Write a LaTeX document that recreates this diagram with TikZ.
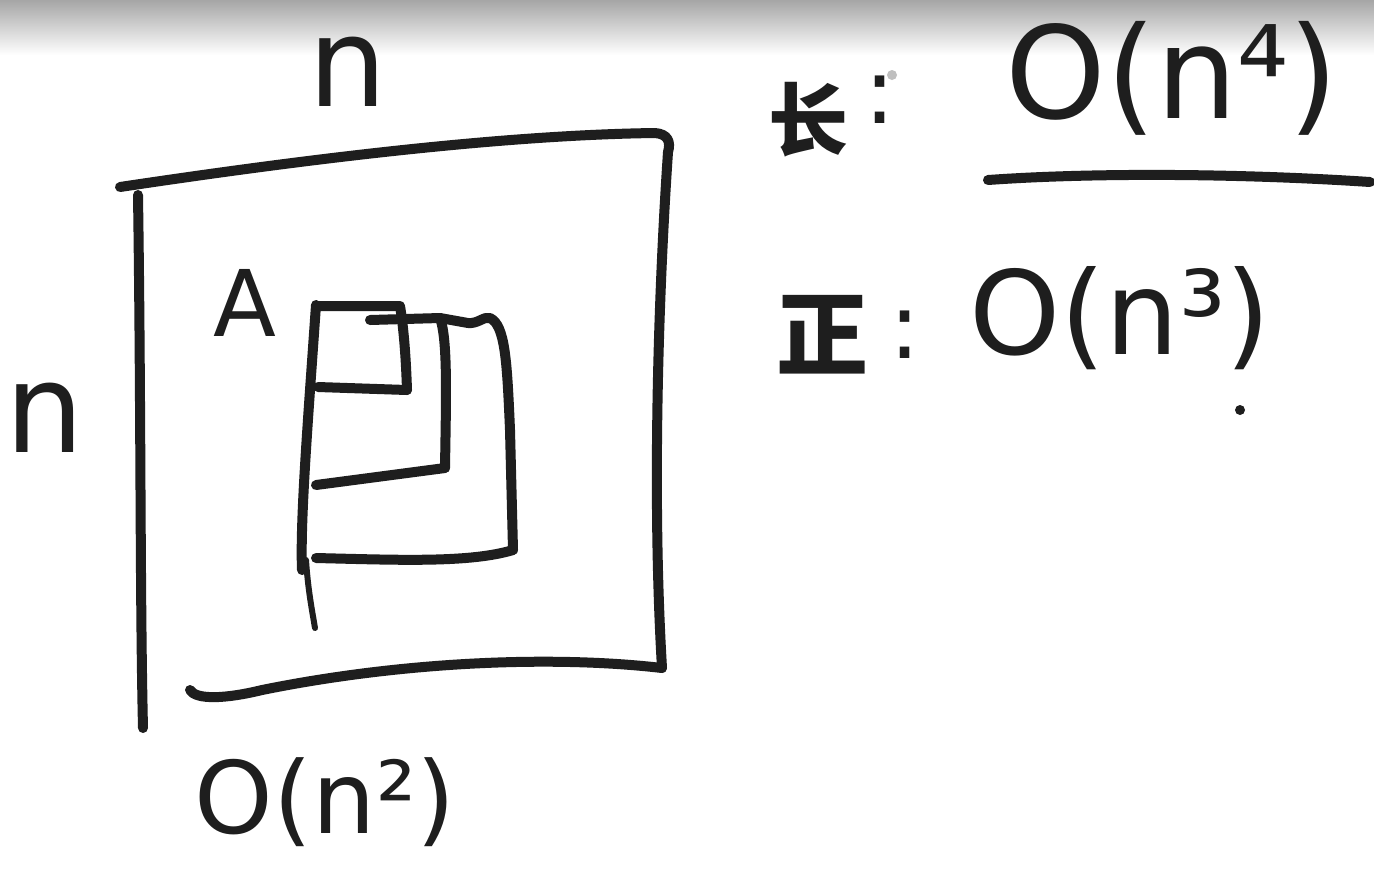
\documentclass[tikz,border=0pt]{standalone}
\usepackage{fontspec}
\setmainfont{DejaVu Sans}
\newfontfamily\cjk{Noto Sans CJK SC}
\definecolor{inkc}{HTML}{1E1E1E}
\begin{document}
\begin{tikzpicture}[x=0.5pt,y=-0.5pt,
  ink/.style={line width=5pt, line cap=round, line join=round, draw=inkc},
  hand/.style={text=inkc, inner sep=0pt}]
\useasboundingbox (0,0) rectangle (1374,869);
\fill[white] (0,0) rectangle (1374,869);
\shade[top color=black!35, bottom color=white] (0,0) rectangle (1374,55);
% outer square
\draw[ink] (120,187) .. controls (300,160) and (500,135) .. (655,133) .. controls (668,134) and (671,142) .. (668,152) .. controls (658,300) and (652,500) .. (662,668);
\draw[ink] (138,195) .. controls (141,400) and (140,600) .. (143,728);
\draw[ink] (190,690) .. controls (196,700) and (225,699) .. (262,690) .. controls (400,662) and (550,655) .. (662,668);
% inner nested squares
\draw[ink] (316,305) .. controls (308,420) and (300,520) .. (302,570);
\draw[ink, line width=3pt] (306,560) .. controls (308,590) and (312,610) .. (315,628);
\draw[ink] (318,306) -- (400,306) .. controls (404,330) and (406,360) .. (407,390);
\draw[ink] (318,387) -- (407,390);
\draw[ink] (370,320) -- (440,318) .. controls (448,340) and (446,400) .. (445,468);
\draw[ink] (316,485) -- (445,468);
\draw[ink] (440,318) -- (468,323) .. controls (478,324) and (484,316) .. (490,318) .. controls (505,325) and (507,360) .. (510,430) -- (513,550);
\draw[ink] (316,558) .. controls (400,560) and (470,563) .. (513,550);
% labels
\node[hand, font=\fontsize{62}{62}\selectfont] (ntop) at (348,72) {n};
\node[hand, font=\fontsize{62}{62}\selectfont] (nleft) at (45,418) {n};
\node[hand, font=\fontsize{46}{46}\selectfont] (A) at (245,303) {A};
\node[hand, font=\fontsize{50}{50}\selectfont] (on2) at (325,802) {O(n²)};
\node[hand, font=\cjk\bfseries\fontsize{40}{40}\selectfont] (chang) at (808,120) {长};
\node[hand, font=\fontsize{46}{46}\selectfont] (c1) at (880,100) {:};
\node[hand, font=\fontsize{64}{64}\selectfont] (on4) at (1172,78) {O(n⁴)};
\node[hand, font=\cjk\bfseries\fontsize{46}{46}\selectfont] (zheng) at (822,335) {正};
\node[hand, font=\fontsize{46}{46}\selectfont] (c2) at (905,335) {:};
\node[hand, font=\fontsize{58}{58}\selectfont] (on3) at (1120,318) {O(n³)};
\draw[ink] (988,180) .. controls (1100,172) and (1250,174) .. (1370,182);
\fill[inkc] (1240,410) circle (2.5pt);
\fill[black!25] (892,75) circle (2.5pt);
\end{tikzpicture}
\end{document}
